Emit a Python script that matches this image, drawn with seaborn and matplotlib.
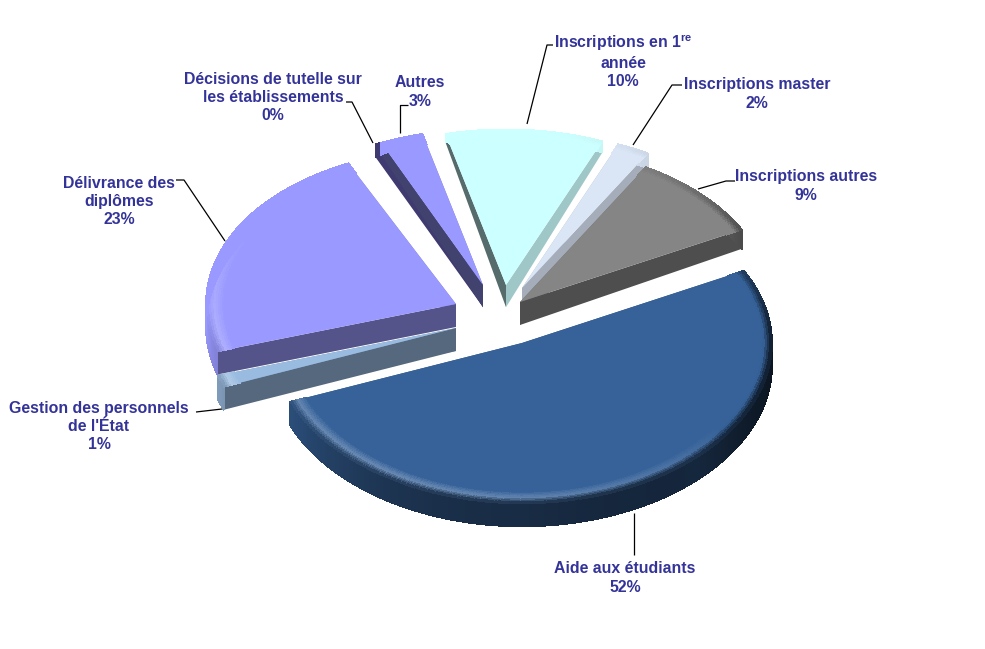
import numpy as np
import matplotlib
matplotlib.use('Agg')
import matplotlib.pyplot as plt
from matplotlib.collections import PolyCollection
from matplotlib.colors import to_rgb
import seaborn as sns

# data, clockwise from the top
names = ["Inscriptions en 1$^{re}$\nannée", "Inscriptions master", "Inscriptions autres", "Aide aux étudiants",
         "Gestion des personnels\nde l'État", "Délivrance des\ndiplômes",
         "Décisions de tutelle sur\nles établissements", "Autres"]
values = [10.2, 2.1, 9.0, 51.7, 1.2, 22.8, 0.4, 2.8]
colors = ["#CCFFFF", "#DAE6F6", "#858585", "#366299", "#99BBE0", "#9999FF", "#3F3A6F", "#9999FF"]

# layout: where each exploded slice has its tip
tips = [(506, 285), (522, 288), (520, 302), (522, 343), (456, 328), (456, 304), (483, 285), (483, 285)]
label_pos = [(623, 60.5), (757, 94), (806, 186), (625, 578), (99, 426.5), (119, 201.5), (273, 97.5), (420, 92)]
leaders = [[(527, 124), (547, 45), (553, 45)],
           [(633, 145), (672, 85), (682, 85)],
           [(698, 189), (726, 181), (735, 181)],
           [(634, 513), (634, 555)],
           [(222, 409), (196, 412)],
           [(225, 241), (184, 180), (176, 180)],
           [(373, 143), (352, 102), (346, 102)],
           [(400, 133), (400, 105), (408, 105)]]

RX, RY = 250, 158
PERSP = 0.015
DEPTH = 23
TEXT = "#333399"

sns.set_theme(style="white")
plt.rcParams['font.family'] = ['Liberation Sans', 'DejaVu Sans']
plt.rcParams['mathtext.fontset'] = 'custom'
plt.rcParams['mathtext.bf'] = 'Liberation Sans:bold'
plt.rcParams['mathtext.default'] = 'bf'

fig = plt.figure(figsize=(9.85, 6.49), dpi=100)
ax = fig.add_axes([0, 0, 1, 1])
ax.set_xlim(0, 985)
ax.set_ylim(649, 0)
ax.axis('off')


def mix(a, b, t):
    return tuple(np.array(a) * (1 - t) + np.array(b) * t)


def draw_slice(i, t_start, t_end):
    face = np.array(to_rgb(colors[i]))
    tx, ty = tips[i]

    def pt(r, deg, z=0.0):
        a = np.radians(deg)
        px = tx + RX * r * np.cos(a)
        py = ty - RY * r * np.sin(a) * (1 - PERSP * np.sin(a))
        # the far end of the walls looks thinner
        return px, py + z * DEPTH * np.interp(py, [130, 150, 300], [0.3, 0.65, 1.0])

    # straight walls under the two cut edges, the lower one on top
    walls = sorted([(t_start, t_start + 90), (t_end, t_end - 90)], key=lambda w: pt(1, w[0])[1])
    for edge, normal in walls:
        n = (normal + 180) % 360 - 180
        shade = np.interp(n, [-166, -70, -25, 0], [0.42, 0.55, 0.78, 0.80])
        if i == 6:
            shade = 1.0  # this sliver is only its dark wall
        ax.fill(*zip(pt(0, edge), pt(1, edge), pt(1, edge, 1), pt(0, edge, 1)),
                color=tuple(face * shade), lw=0, zorder=i_order[i])

    # outer wall and bevel, one small quad per step along the arc
    thetas = np.linspace(t_start, t_end, max(4, int(abs(t_end - t_start) * 1.5)))
    quads, cols = [], []
    band = np.linspace(0.93, 1.0, 9)
    for a0, a1 in zip(thetas[:-1], thetas[1:]):
        am = np.radians((a0 + a1) / 2)
        right = np.clip(np.cos(am), 0, 1) * np.clip(1 - np.sin(am), 0, 1)
        front = np.clip(-np.sin(am), 0, 1)
        light = np.clip(np.cos(am + np.radians(125)), 0, 1) ** 0.7
        shadow = face * (1 - 0.55 * max(right, front)) * (1 - 0.5 * right)
        quads.append([pt(1, a0), pt(1, a1), pt(1, a1, 1), pt(1, a0, 1)])
        cols.append(tuple(shadow))
        for r0, r1 in zip(band[:-1], band[1:]):
            u = ((r0 + r1) / 2 - 0.93) / 0.07
            hi = mix(face, (1, 1, 1), 0.25 * light)
            if u < 0.55:
                c = mix(face, hi, u / 0.55)
            else:
                c = mix(hi, shadow, (u - 0.55) / 0.45)
            quads.append([pt(r0, a0), pt(r0, a1), pt(r1, a1), pt(r1, a0)])
            cols.append(c)
    ax.add_collection(PolyCollection(quads, facecolors=cols, edgecolors=cols, linewidths=0.5,
                                     antialiaseds=False, zorder=i_order[i] + 0.1))

    # top face inside the bevel
    inner = [pt(0, t_start)] + [pt(0.93, a) for a in thetas] + [pt(0, t_end)]
    ax.fill(*zip(*inner), color=colors[i], lw=0, zorder=i_order[i] + 0.2)


# slice angles from the values, running clockwise
total = sum(values)
edges = 104 - np.cumsum([0] + values) / total * 360

# painter's order, back to front
i_order = {0: 1, 1: 2, 2: 3, 6: 4, 7: 5, 5: 6, 4: 7, 3: 8}
for i in range(len(values)):
    draw_slice(i, edges[i], edges[i + 1])

for path in leaders:
    xs, ys = zip(*path)
    ax.plot(xs, ys, color="black", lw=0.9, zorder=20, solid_capstyle='butt')

for i, (name, (x, y)) in enumerate(zip(names, label_pos)):
    txt = f"{name}\n{round(values[i])}%"
    ax.text(x, y, txt, ha='center', va='center', color=TEXT, fontsize=11.4, fontweight='bold',
            linespacing=1.26, zorder=21)

fig.savefig('out.png', dpi=100, facecolor='white')
